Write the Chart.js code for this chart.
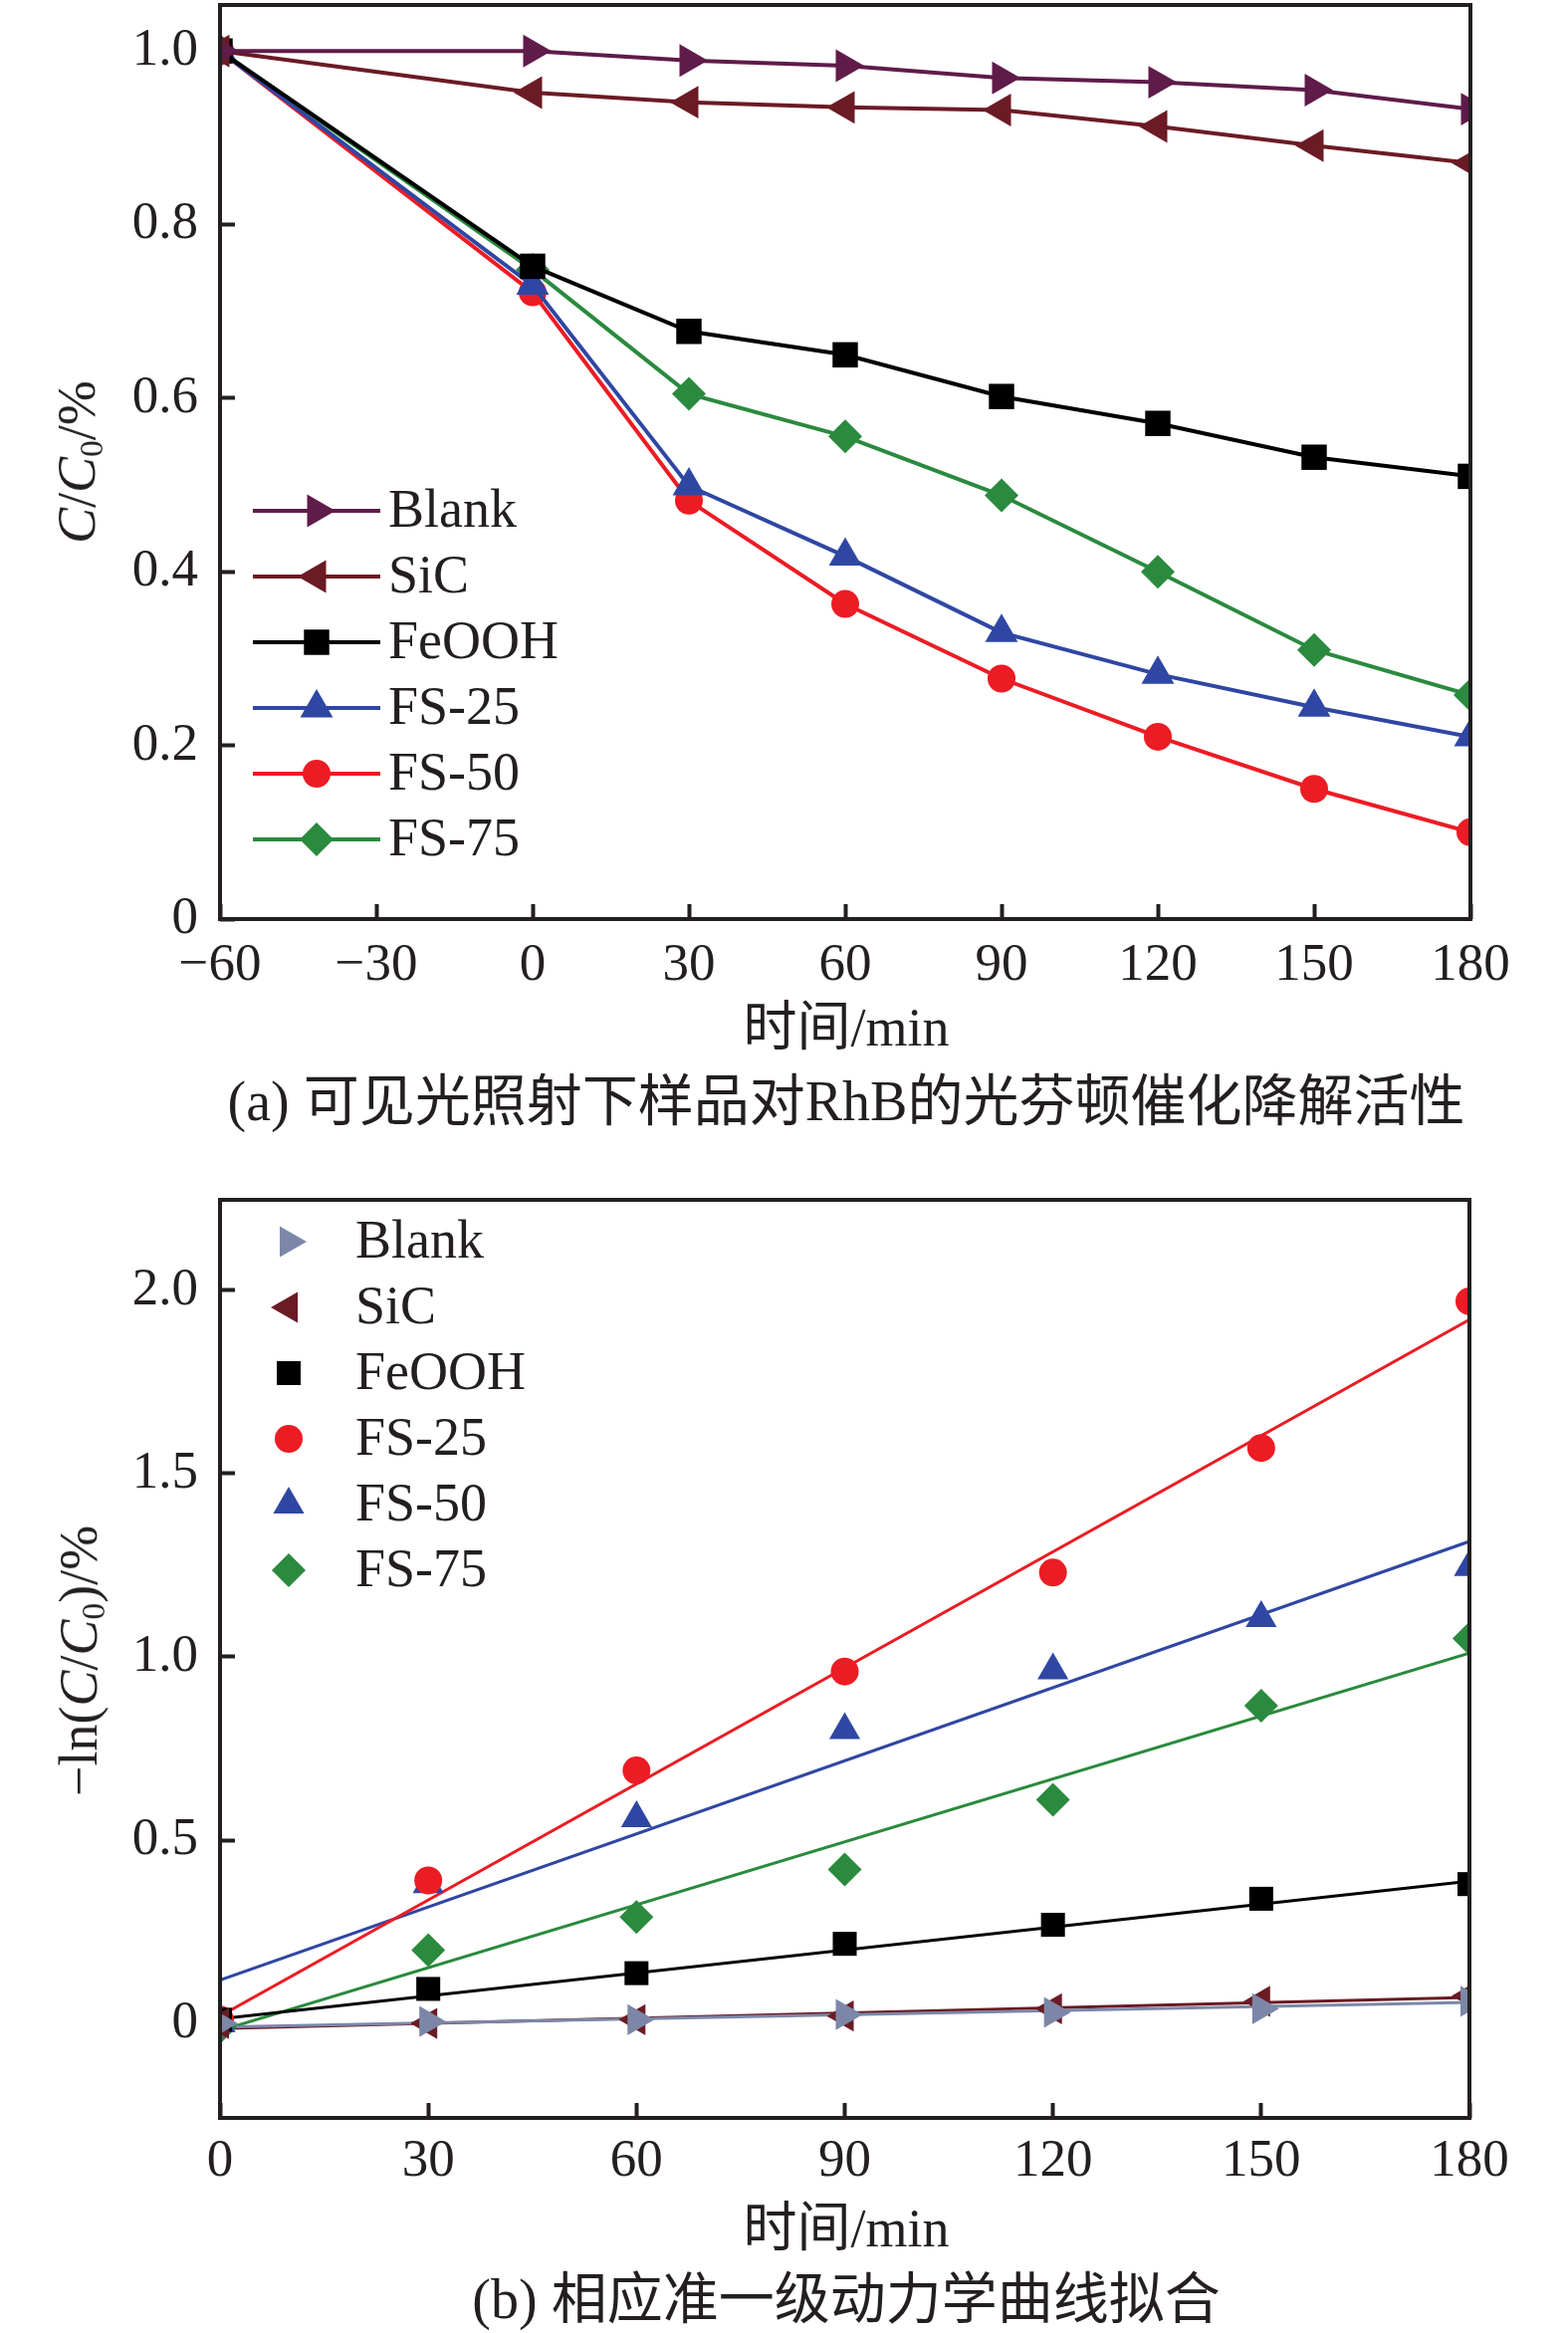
<!DOCTYPE html>
<html lang="zh">
<head>
<meta charset="UTF-8" />
<title>光芬顿催化降解活性</title>
<script src="https://cdn.jsdelivr.net/npm/chart.js"></script>
<style>
  body { margin: 0; background: #fff; width: 1575px; height: 2343px; position: relative; overflow: hidden;
         font-family: "Liberation Serif", "Noto Sans CJK SC", serif; color: #231f20; }
  canvas { position: absolute; left: 0; }
  .lbl { position: absolute; white-space: nowrap; transform: translate(-50%, -50%); font-size: 54px; line-height: 1; }
  .cap { font-size: 56px; }
  .ytitle { transform: translate(-50%, -50%) rotate(-90deg); }
  .sub { font-size: 0.62em; position: relative; top: 0.25em; }
</style>
</head>
<body>
<canvas id="chartA" width="1575" height="1000" style="top:0;width:1575px;height:1000px"></canvas>
<canvas id="chartB" width="1575" height="1030" style="top:1180px;width:1575px;height:1030px"></canvas>

<div class="lbl ytitle" style="left:77px;top:464px"><i>C</i>/<i>C</i><span class="sub">0</span>/%</div>
<div class="lbl" style="left:850px;top:1032px">时间/min</div>
<div class="lbl cap" style="left:850px;top:1106px">(a) 可见光照射下样品对RhB的光芬顿催化降解活性</div>

<div class="lbl ytitle" style="left:79px;top:1668px">−ln(<i>C</i>/<i>C</i><span class="sub">0</span>)/%</div>
<div class="lbl" style="left:850px;top:2238px">时间/min</div>
<div class="lbl cap" style="left:850px;top:2309px">(b) 相应准一级动力学曲线拟合</div>

<script>
  // (a) C/C0 against time
  const timeA = [-60, 0, 30, 60, 90, 120, 150, 180];
  const blankA = [1.0, 1.0, 0.989, 0.983, 0.969, 0.964, 0.955, 0.933];
  const sicA = [1.0, 0.952, 0.941, 0.935, 0.932, 0.913, 0.891, 0.871];
  const feoohA = [1.0, 0.752, 0.677, 0.65, 0.602, 0.571, 0.532, 0.51];
  const fs25A = [1.0, 0.73, 0.499, 0.418, 0.33, 0.282, 0.244, 0.21];
  const fs50A = [1.0, 0.722, 0.482, 0.363, 0.277, 0.21, 0.15, 0.1];
  const fs75A = [1.0, 0.748, 0.605, 0.556, 0.488, 0.4, 0.31, 0.258];
  const xTicksA = [-60, -30, 0, 30, 60, 90, 120, 150, 180];
  const yTicksA = [0, 0.2, 0.4, 0.6, 0.8, 1.0];

  // (b) -ln(C/C0) against time, measured points
  const timeB = [0, 30, 60, 90, 120, 150, 180];
  const blankB = [0, 0.005, 0.01, 0.024, 0.03, 0.04, 0.06];
  const sicB = [0, 0, 0.01, 0.02, 0.04, 0.06, 0.075];
  const feoohB = [0.01, 0.094, 0.137, 0.217, 0.269, 0.34, 0.38];
  const fs25B = [0.01, 0.39, 0.69, 0.96, 1.23, 1.57, 1.97];
  const fs50B = [0, 0.38, 0.56, 0.8, 0.963, 1.106, 1.245];
  const fs75B = [-0.01, 0.2, 0.29, 0.42, 0.61, 0.867, 1.05];
  // fitted straight lines, value at t=0 and t=180
  const fitT = [0, 180];
  const blankFit = [-0.01, 0.057];
  const sicFit = [-0.014, 0.071];
  const feoohFit = [0.012, 0.388];
  const fs25Fit = [0.02, 1.92];
  const fs50Fit = [0.118, 1.315];
  const fs75Fit = [-0.02, 1.01];
  const xTicksB = [0, 30, 60, 90, 120, 150, 180];
  const yTicksB = [0, 0.5, 1.0, 1.5, 2.0];

  const ink = "#231f20";
  const pts = (xs, ys) => xs.map((x, i) => ({ x: x, y: ys[i] }));

  // box round the plot area
  const frame = {
    id: "frame",
    afterDatasetsDraw(chart) {
      const { ctx, chartArea: a } = chart;
      ctx.save();
      ctx.lineWidth = 4;
      ctx.strokeStyle = ink;
      ctx.strokeRect(a.left, a.top, a.right - a.left, a.bottom - a.top);
      ctx.restore();
    }
  };

  // legend drawn inside the plot area
  const legendInside = {
    id: "legendInside",
    afterDraw(chart, args, opts) {
      const ctx = chart.ctx;
      ctx.save();
      let k = 0;
      chart.data.datasets.forEach(ds => {
        if (!ds.label) return;
        const y = opts.y + k * opts.rowH;
        k++;
        if (opts.lineLen) {
          ctx.strokeStyle = ds.borderColor;
          ctx.lineWidth = ds.borderWidth;
          ctx.beginPath();
          ctx.moveTo(opts.x - opts.lineLen / 2, y);
          ctx.lineTo(opts.x + opts.lineLen / 2, y);
          ctx.stroke();
        }
        ctx.fillStyle = ds.pointBackgroundColor;
        Chart.helpers.drawPoint(ctx, {
          pointStyle: ds.pointStyle, radius: ds.pointRadius,
          rotation: ds.pointRotation || 0, borderWidth: 0
        }, opts.x, y);
        ctx.fillStyle = ink;
        ctx.font = '54px "Liberation Serif"';
        ctx.textBaseline = "middle";
        ctx.fillText(ds.label, opts.textX, y + 2);
      });
      ctx.restore();
    }
  };

  function axis(min, max, ticks, fmt, isX, size, pad) {
    return {
      type: "linear",
      min: min,
      max: max,
      border: { display: false },
      grid: { drawOnChartArea: false, drawTicks: true, tickLength: -15, tickWidth: 4, tickColor: ink },
      afterBuildTicks: s => { s.ticks = ticks.map(v => ({ value: v })); },
      afterFit: s => {
        if (isX) s.height = size; else s.width = size;
        // no extra room for overhanging end labels
        s.paddingTop = s.paddingBottom = s.paddingLeft = s.paddingRight = 0;
      },
      ticks: {
        padding: pad, color: ink, autoSkip: false, maxRotation: 0,
        font: { family: "Liberation Serif", size: 53 },
        callback: fmt
      }
    };
  }

  const fmtX = v => (v < 0 ? "−" + Math.abs(v) : String(v));
  const fmtY = v => (v === 0 ? "0" : v.toFixed(1));

  function series(label, xs, ys, color, style, radius, rot, width) {
    return {
      label: label,
      data: pts(xs, ys),
      showLine: true,
      borderColor: color,
      borderWidth: width,
      pointBackgroundColor: color,
      pointBorderWidth: 0,
      pointStyle: style,
      pointRadius: radius,
      pointRotation: rot,
      clip: { left: 0, top: 30, right: 0, bottom: 30 }
    };
  }

  new Chart(document.getElementById("chartA"), {
    type: "scatter",
    data: {
      datasets: [
        series("Blank", timeA, blankA, "#5f1b4a", "triangle", 19, 90, 4),
        series("SiC", timeA, sicA, "#6b1b24", "triangle", 19, -90, 4),
        series("FeOOH", timeA, feoohA, "#000000", "rect", 18, 0, 4),
        series("FS-25", timeA, fs25A, "#2f47a3", "triangle", 19, 0, 4),
        series("FS-50", timeA, fs50A, "#ec1c24", "circle", 14, 0, 4),
        series("FS-75", timeA, fs75A, "#2a8a3e", "rectRot", 17, 0, 4)
      ]
    },
    options: {
      responsive: false,
      animation: false,
      layout: { autoPadding: false, padding: { left: 0, right: 98, top: 5, bottom: 0 } },
      plugins: {
        legend: { display: false },
        tooltip: { enabled: false },
        legendInside: { x: 318, lineLen: 128, textX: 390, y: 513, rowH: 66 }
      },
      scales: {
        x: axis(-60, 180, xTicksA, fmtX, true, 1000 - 923, 30),
        y: axis(0, 1.053, yTicksA, fmtY, false, 221, 37)
      }
    },
    plugins: [frame, legendInside]
  });

  function fit(xs, ys, color) {
    return {
      label: "",
      data: pts(xs, ys),
      showLine: true,
      borderColor: color,
      borderWidth: 3,
      pointRadius: 0,
      clip: 0
    };
  }

  function marks(label, xs, ys, color, style, radius, rot) {
    const d = series(label, xs, ys, color, style, radius, rot, 0);
    d.showLine = false;
    return d;
  }

  new Chart(document.getElementById("chartB"), {
    type: "scatter",
    data: {
      datasets: [
        marks("Blank", timeB, blankB, "#7c87a8", "triangle", 18, 90),
        marks("SiC", timeB, sicB, "#6b1b24", "triangle", 18, -90),
        marks("FeOOH", timeB, feoohB, "#000000", "rect", 17, 0),
        marks("FS-25", timeB, fs25B, "#ec1c24", "circle", 14, 0),
        marks("FS-50", timeB, fs50B, "#2f47a3", "triangle", 18, 0),
        marks("FS-75", timeB, fs75B, "#2a8a3e", "rectRot", 17, 0),
        fit(fitT, blankFit, "#7c87a8"),
        fit(fitT, sicFit, "#6b1b24"),
        fit(fitT, feoohFit, "#000000"),
        fit(fitT, fs25Fit, "#ec1c24"),
        fit(fitT, fs50Fit, "#2f47a3"),
        fit(fitT, fs75Fit, "#2a8a3e")
      ]
    },
    options: {
      responsive: false,
      animation: false,
      layout: { autoPadding: false, padding: { left: 0, right: 99, top: 25, bottom: 0 } },
      plugins: {
        legend: { display: false },
        tooltip: { enabled: false },
        legendInside: { x: 290, lineLen: 0, textX: 357, y: 67, rowH: 66 }
      },
      scales: {
        x: axis(0, 180, xTicksB, fmtX, true, 1030 - 947, 27),
        y: axis(-0.258, 2.247, yTicksB, fmtY, false, 221, 37)
      }
    },
    plugins: [frame, legendInside]
  });
</script>
</body>
</html>
